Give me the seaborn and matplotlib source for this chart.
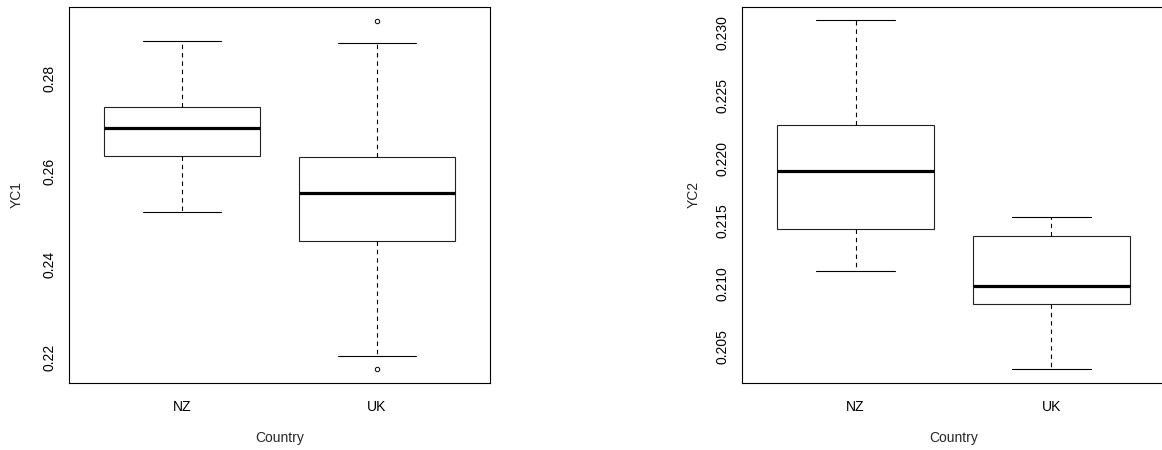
import numpy as np
import pandas as pd
import matplotlib
matplotlib.use("Agg")
import matplotlib.pyplot as plt
import seaborn as sns

countries = ["NZ", "UK"]

# Five-number summaries per country (lower whisker, Q1, median, Q3, upper whisker)
yc1_lower = [0.2513, 0.2203]
yc1_q1 = [0.2633, 0.2451]
yc1_median = [0.2693, 0.2554]
yc1_q3 = [0.2739, 0.2631]
yc1_upper = [0.2880, 0.2877]
yc1_outliers = [[], [0.2175, 0.2924]]

yc2_lower = [0.2110, 0.2032]
yc2_q1 = [0.2144, 0.2084]
yc2_median = [0.2190, 0.2098]
yc2_q3 = [0.2227, 0.2138]
yc2_upper = [0.2310, 0.2153]
yc2_outliers = [[], []]

yc1_ticks = [0.22, 0.24, 0.26, 0.28]
yc2_ticks = [0.205, 0.210, 0.215, 0.220, 0.225, 0.230]


def sample_from_summary(lower, q1, med, q3, upper, outliers):
    # quartile values are repeated so that linear-interpolated percentiles
    # land exactly on Q1 / median / Q3
    rows = []
    for c, lo, a, m, b, hi, out in zip(countries, lower, q1, med, q3, upper, outliers):
        vals = [lo] + [a] * 4 + [m] + [b] * 4 + [hi] + list(out)
        rows += [(c, v) for v in vals]
    return rows


df1 = pd.DataFrame(sample_from_summary(yc1_lower, yc1_q1, yc1_median, yc1_q3,
                                       yc1_upper, yc1_outliers),
                   columns=["Country", "YC1"])
df2 = pd.DataFrame(sample_from_summary(yc2_lower, yc2_q1, yc2_median, yc2_q3,
                                       yc2_upper, yc2_outliers),
                   columns=["Country", "YC2"])

sns.set_style("white")
plt.rcParams["font.family"] = ["Liberation Sans", "DejaVu Sans"]
plt.rcParams["font.size"] = 10

W, H = 1162, 450
fig = plt.figure(figsize=(W / 100, H / 100), dpi=100)
fig.patch.set_facecolor("white")

ax1 = fig.add_axes([69 / W, 67 / H, 421 / W, 376 / H])
ax2 = fig.add_axes([742 / W, 67 / H, 423 / W, 376.5 / H])

box_kw = dict(
    color="white", linecolor="black", linewidth=0.8, width=0.8, whis=1.5,
    saturation=1,
    medianprops=dict(color="black", linewidth=2.3),
    whiskerprops=dict(color="black", linewidth=0.8, linestyle=(0, (4, 3.5))),
    capprops=dict(color="black", linewidth=0.8),
    boxprops=dict(edgecolor="#222222", linewidth=0.8),
    flierprops=dict(marker="o", markersize=3.2, markerfacecolor="white",
                    markeredgecolor="black", markeredgewidth=0.7),
)

panels = [
    (ax1, df1, "YC1", yc1_ticks, "{:.2f}",
     yc1_lower, yc1_upper, yc1_outliers),
    (ax2, df2, "YC2", yc2_ticks, "{:.3f}",
     yc2_lower, yc2_upper, yc2_outliers),
]

for ax, df, col, ticks, fmt, lower, upper, outliers in panels:
    sns.boxplot(data=df, x="Country", y=col, order=countries, ax=ax, **box_kw)

    lo = min(min(lower), *[v for o in outliers for v in o] or [min(lower)])
    hi = max(max(upper), *[v for o in outliers for v in o] or [max(upper)])
    pad = 0.04 * (hi - lo)
    ax.set_ylim(lo - pad, hi + pad)
    ax.set_xlim(-0.58, 1.58)

    ax.set_yticks(ticks)
    ax.set_yticklabels([fmt.format(t) for t in ticks], rotation=90, va="center")
    ax.set_xticks(range(len(countries)))
    ax.set_xticklabels(countries)

    ax.tick_params(axis="both", direction="out", length=5, width=0.8,
                   color="black", labelcolor="black", labelsize=10)
    ax.tick_params(axis="y", pad=4)
    ax.tick_params(axis="x", pad=7)

    for sp in ax.spines.values():
        sp.set_visible(True)
        sp.set_color("black")
        sp.set_linewidth(0.8)

    ax.set_xlabel("Country", fontsize=10)
    ax.set_ylabel(col, fontsize=10)
    ax.grid(False)

ax1.yaxis.set_label_coords((17 - 69) / 421, 0.5)
ax2.yaxis.set_label_coords((694 - 742) / 423, 0.5)
for ax in (ax1, ax2):
    ax.yaxis.label.set_va("center")
    ax.xaxis.set_label_coords(0.5, -0.146)
    ax.xaxis.label.set_va("center")

fig.savefig("out.png", dpi=100, facecolor="white")
